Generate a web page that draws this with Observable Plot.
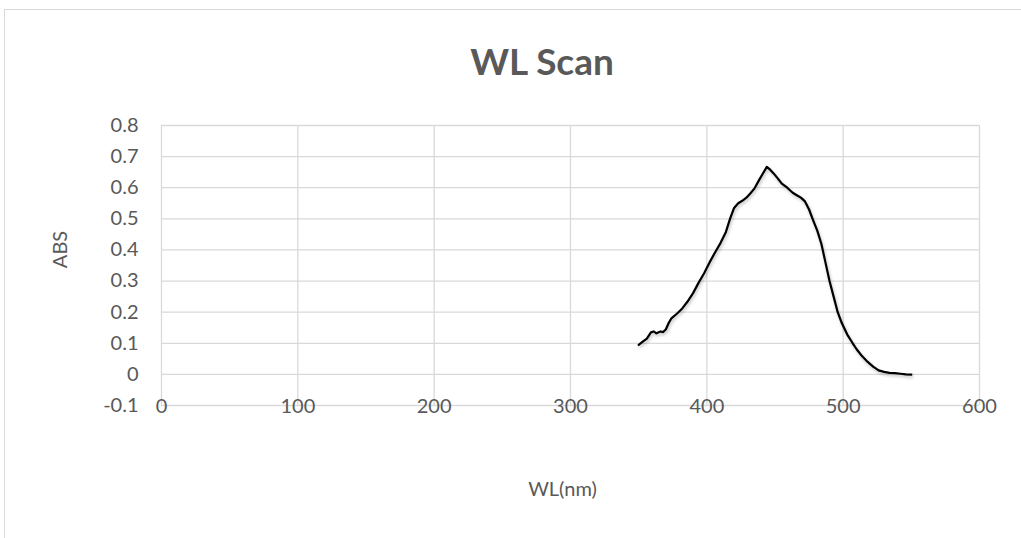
<!DOCTYPE html>
<html>
<head>
<meta charset="utf-8">
<script src="https://cdn.jsdelivr.net/npm/d3@7"></script>
<script src="https://cdn.jsdelivr.net/npm/@observablehq/plot@0.6"></script>
<style>
  html, body { margin: 0; padding: 0; background: #fff; overflow: hidden; }
  #wrap { position: relative; width: 1021px; height: 538px; font-family: Lato, "Open Sans", sans-serif; }
  #border { position: absolute; left: 4px; top: 9px; width: 1040px; height: 560px; border: 1px solid #d9d9d9; box-sizing: border-box; }
  #title { position: absolute; left: 0; width: 1084px; top: 38px; text-align: center; font-size: 37px; line-height: 46px; font-weight: bold; color: #595959; }
  #chart { position: absolute; left: 0; top: 0; }
</style>
</head>
<body>
<div id="wrap">
  <div id="border"></div>
  <div id="title">WL Scan</div>
  <div id="chart"></div>
</div>
<script>
const wl  = [350, 353, 356, 359, 361, 363, 366, 368, 370, 372, 374, 378, 382, 386, 390, 394, 398, 402, 406, 410, 414, 417, 420, 423, 426, 429, 432, 435, 438, 441, 444, 446, 449, 452, 455, 459, 463, 466, 469, 472, 475, 478, 481, 484, 487, 490, 493, 496, 499, 503, 507, 510, 514, 518, 522, 526, 530, 534, 538, 542, 546, 550];
const abs = [0.095, 0.105, 0.115, 0.135, 0.138, 0.132, 0.138, 0.136, 0.145, 0.165, 0.180, 0.195, 0.212, 0.235, 0.262, 0.295, 0.325, 0.360, 0.392, 0.422, 0.458, 0.500, 0.535, 0.550, 0.558, 0.568, 0.582, 0.598, 0.622, 0.645, 0.667, 0.660, 0.646, 0.630, 0.613, 0.600, 0.584, 0.576, 0.568, 0.556, 0.530, 0.495, 0.462, 0.420, 0.360, 0.300, 0.250, 0.200, 0.165, 0.128, 0.100, 0.080, 0.058, 0.040, 0.025, 0.013, 0.008, 0.005, 0.004, 0.002, 0.000, -0.001];
const xTicks = [0, 100, 200, 300, 400, 500, 600];
const yTicks = [-0.1, 0, 0.1, 0.2, 0.3, 0.4, 0.5, 0.6, 0.7, 0.8];
const xLabel = "WL(nm)";
const yLabel = "ABS";

const data = wl.map((w, i) => ({wl: w, abs: abs[i]}));

const chart = Plot.plot({
  width: 1021,
  height: 538,
  marginLeft: 161,
  marginRight: 42,
  marginTop: 125,
  marginBottom: 133,
  style: { fontFamily: "Lato, 'Open Sans', sans-serif", fontSize: "20px", color: "#595959", background: "transparent", overflow: "visible" },
  x: { domain: [0, 600] },
  y: { domain: [-0.1, 0.8] },
  marks: [
    Plot.gridX(xTicks, { stroke: "#d9d9d9", strokeOpacity: 1, strokeWidth: 1.3 }),
    Plot.gridY(yTicks, { stroke: "#d9d9d9", strokeOpacity: 1, strokeWidth: 1.3 }),
    Plot.axisX(xTicks, { tickSize: 0, tickPadding: -7, fill: "#595959", label: null, tickFormat: d => String(d) }),
    Plot.axisY(yTicks, { tickSize: 0, tickPadding: 23, fill: "#595959", label: null, tickFormat: d => Math.abs(d) < 1e-9 ? "0" : d.toFixed(1) }),
    Plot.text([xLabel], { text: d => d, frameAnchor: "bottom", lineAnchor: "middle", textAnchor: "middle", dx: -8, dy: 84, fill: "#595959", fontSize: 20 }),
    Plot.text([yLabel], { text: d => d, frameAnchor: "left", lineAnchor: "middle", textAnchor: "middle", dx: -101, dy: -16, rotate: -90, fill: "#595959", fontSize: 20 }),
    Plot.line(data, { x: "wl", y: "abs", stroke: "#000", strokeWidth: 2.2, curve: "linear", imageFilter: "drop-shadow(1px 2px 1.5px rgba(0,0,0,0.25))" })
  ]
});
document.getElementById("chart").appendChild(chart);
</script>
</body>
</html>
